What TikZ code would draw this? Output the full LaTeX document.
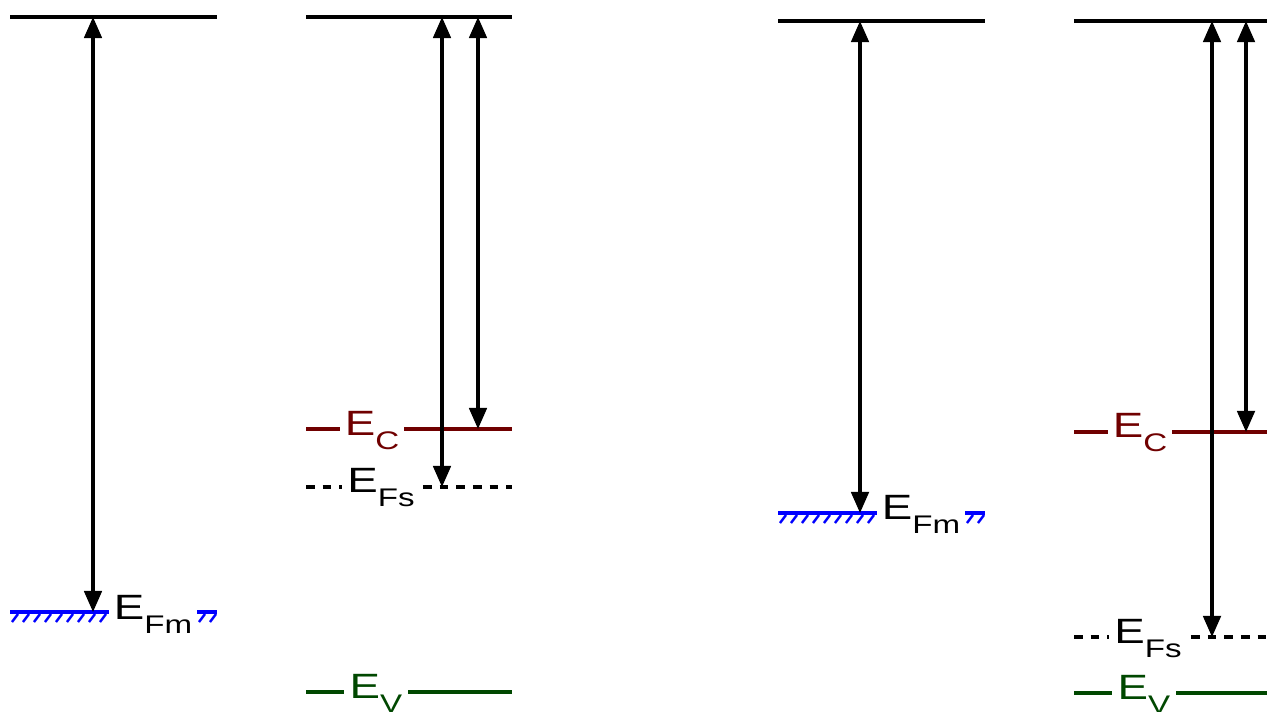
\documentclass[tikz,border=0pt]{standalone}
\usepackage{graphicx}
\usepackage{fontspec}
\setmainfont{Liberation Sans}
\usepackage{tikz}
\usetikzlibrary{arrows.meta}
\definecolor{condred}{RGB}{112,0,0}
\definecolor{valgreen}{RGB}{0,72,0}
\definecolor{metalblue}{RGB}{0,0,255}
\newcommand{\elev}[1]{\scalebox{1.3}[1]{E\raisebox{-8pt}{\fontsize{14.5}{14.5}\selectfont #1}}}

\begin{document}
\begin{tikzpicture}[
    x=0.02cm, y=-0.02cm,
    vac/.style={line width=2.8pt},
    cband/.style={draw=condred, line width=2.4pt},
    vband/.style={draw=valgreen, line width=2.4pt},
    fermi/.style={line width=2.2pt, dash pattern=on 5pt off 4.5pt},
    metal/.style={draw=metalblue, line width=2.2pt},
    hatch/.style={draw=metalblue, line width=1.4pt},
    arrow/.style={<->, >={Triangle[length=12pt,width=10pt]}, line width=1.8pt},
    tag/.style={fill=white, inner xsep=3pt, inner ysep=2pt, anchor=base, font=\fontsize{20}{24}\selectfont}
]
\useasboundingbox (0,0) rectangle (1267,711);

% metal, left
\draw[vac] (10,17) -- (217,17);
\draw[metal] (10,612) -- (217,612);
\foreach \x in {12,23,...,210} \draw[hatch] (\x,622) -- ++(6,-8);

\coordinate (vac1) at (93,17);
\coordinate (fm1) at (93,612);
\draw[arrow] (vac1) -- (fm1);

\node[tag] (fm1lbl) at (153,619) {\elev{Fm}};

% semiconductor, left
\draw[vac] (306,17) -- (512,17);
\draw[cband] (306,429) -- (512,429);
\draw[fermi] (306,487) -- (512,487);
\draw[vband] (306,692) -- (512,692);

\coordinate (vac2a) at (442,17);
\coordinate (fs2) at (442,487);
\coordinate (vac2b) at (478,17);
\coordinate (ec2) at (478,429);
\draw[arrow] (vac2a) -- (fs2);
\draw[arrow] (vac2b) -- (ec2);

\node[tag, text=condred] (ec2lbl) at (372,435) {\elev{C}};
\node[tag] (fs2lbl) at (381,492) {\elev{Fs}};
\node[tag, text=valgreen] (ev2lbl) at (376,698) {\elev{V}};

% metal, right
\draw[vac] (778,21) -- (985,21);
\draw[metal] (778,513) -- (985,513);
\foreach \x in {780,791,...,978} \draw[hatch] (\x,523) -- ++(6,-8);

\coordinate (vac3) at (860,21);
\coordinate (fm3) at (860,513);
\draw[arrow] (vac3) -- (fm3);

\node[tag] (fm3lbl) at (921,519) {\elev{Fm}};

% semiconductor, right
\draw[vac] (1074,21) -- (1280,21);
\draw[cband] (1074,432) -- (1280,432);
\draw[fermi] (1074,637) -- (1280,637);
\draw[vband] (1074,693) -- (1280,693);

\coordinate (vac4a) at (1212,21);
\coordinate (fs4) at (1212,637);
\coordinate (vac4b) at (1246,21);
\coordinate (ec4) at (1246,432);
\draw[arrow] (vac4a) -- (fs4);
\draw[arrow] (vac4b) -- (ec4);

\node[tag, text=condred] (ec4lbl) at (1140,437) {\elev{C}};
\node[tag] (fs4lbl) at (1148,643) {\elev{Fs}};
\node[tag, text=valgreen] (ev4lbl) at (1144,699) {\elev{V}};

\end{tikzpicture}
\end{document}
